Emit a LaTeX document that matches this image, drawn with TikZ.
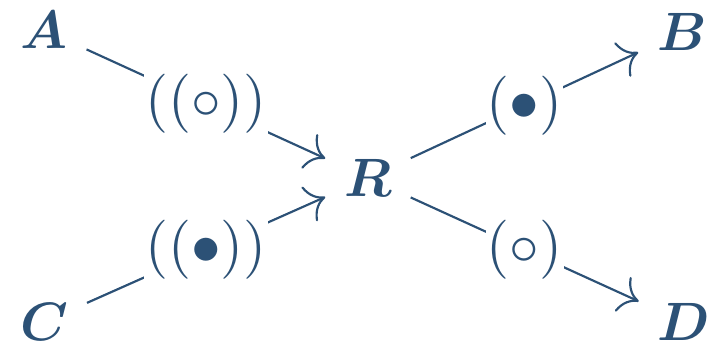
\documentclass[tikz,border=0pt]{standalone}
\usepackage{amsmath,bm}
\usetikzlibrary{arrows.meta}
\definecolor{ink}{RGB}{44,81,118}
\begin{document}
\begin{tikzpicture}[x=0.18519pt,y=-0.18519pt,
  every node/.style={text=ink},
  lbl/.style={fill=white,inner sep=0.2pt,pos=0.5,font=\fontsize{11}{13}\selectfont},
  conn/.style={draw=ink,-{To[scale=1.35]}}]
\useasboundingbox (0,0) rectangle (719,347);
\node (A) at (44,30) {$\bm{A}$};
\node (C) at (44,322) {$\bm{C}$};
\node (R) at (368,178) {$\bm{R}$};
\node (B) at (682,32) {$\bm{B}$};
\node (D) at (684,322) {$\bm{D}$};
\draw[conn] (A) -- node[lbl] {$((\circ))$} (R);
\draw[conn] (C) -- node[lbl] {$((\bullet))$} (R);
\draw[conn] (R) -- node[lbl] {$(\bullet)$} (B);
\draw[conn] (R) -- node[lbl] {$(\circ)$} (D);
\end{tikzpicture}
\end{document}
